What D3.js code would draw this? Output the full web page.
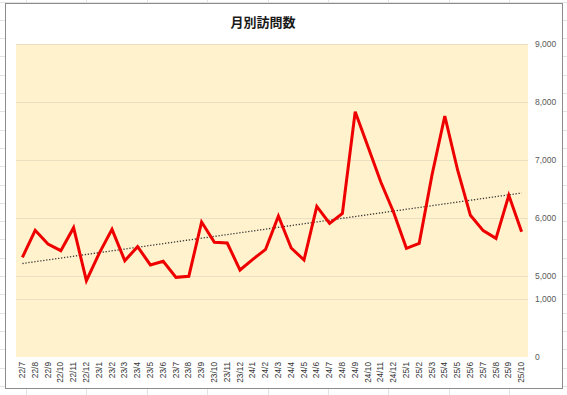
<!DOCTYPE html>
<html><head><meta charset="utf-8">
<script src="https://cdn.jsdelivr.net/npm/d3@7"></script>
<style>html,body{margin:0;padding:0;background:#fff;}svg{display:block;}</style>
</head><body>
<svg id="c" width="567" height="395"></svg>
<script>
const title = "月別訪問数";
const months = ["22/7","22/8","22/9","22/10","22/11","22/12","23/1","23/2","23/3","23/4","23/5","23/6","23/7","23/8","23/9","23/10","23/11","23/12","24/1","24/2","24/3","24/4","24/5","24/6","24/7","24/8","24/9","24/10","24/11","24/12","25/1","25/2","25/3","25/4","25/5","25/6","25/7","25/8","25/9","25/10"];
const visits = [5322,5788,5552,5437,5833,4920,5391,5805,5264,5506,5190,5253,4977,4994,5931,5581,5569,5103,5287,5460,6034,5483,5276,6201,5908,6080,7833,7230,6620,6100,5477,5563,6741,7759,6828,6046,5782,5649,6391,5764];
const yTicks = [0,1000,5000,6000,7000,8000,9000];

const svg = d3.select("#c");
const W = 567, H = 395;

// spreadsheet background grid
const bg = svg.append("g");
for (let y = 1.5; y < H; y += 18.3) bg.append("line").attr("x1",0).attr("x2",W).attr("y1",Math.round(y)+0.5).attr("y2",Math.round(y)+0.5).attr("stroke","#e3e3e3");
for (let x = 26; x < W; x += 60.4) bg.append("line").attr("y1",0).attr("y2",H).attr("x1",Math.round(x)+0.5).attr("x2",Math.round(x)+0.5).attr("stroke","#e3e3e3");

// chart frame
svg.append("rect").attr("x",5.5).attr("y",3.5).attr("width",557).attr("height",385)
  .attr("fill","#fff").attr("stroke","#8c8c8c").attr("stroke-width",1);

const plot = {x0:16, x1:528, y0:44, y1:357};

svg.append("rect").attr("x",plot.x0).attr("y",plot.y0).attr("width",plot.x1-plot.x0).attr("height",plot.y1-plot.y0).attr("fill","#FFF2CC");

const x = d3.scaleBand().domain(months).range([plot.x0, plot.x1]).padding(0);
const cx = d => x(d) + x.bandwidth()/2;

// broken axis: tick positions
const yAxisScale = d3.scaleLinear().domain([0,1000,5000,9000]).range([plot.y1, 299, 276, plot.y0]);
// data scale (upper segment, extended linearly)
const yData = d3.scaleLinear().domain([5000,9000]).range([276, plot.y0]);

// gridlines
svg.append("g").selectAll("line").data(yTicks.filter(d=>d>0)).join("line")
  .attr("x1",plot.x0).attr("x2",plot.x1)
  .attr("y1",d=>Math.round(yAxisScale(d))+0.5).attr("y2",d=>Math.round(yAxisScale(d))+0.5)
  .attr("stroke","#eadfc3").attr("stroke-width",1);

// title
svg.append("text").attr("x",263).attr("y",27).attr("text-anchor","middle")
  .attr("font-family","'Noto Sans CJK JP'").attr("font-weight","bold").attr("font-size",13).attr("fill","#1a1a1a").text(title);

// right axis
const ya = svg.append("g").attr("transform",`translate(${plot.x1+4},0)`)
  .call(d3.axisRight(yAxisScale).tickValues(yTicks).tickFormat(d3.format(",")).tickSize(0));
ya.select(".domain").remove();
ya.selectAll("text").attr("font-family","'Liberation Sans', Arial").attr("font-size",8.5).attr("fill","#595959");

// x axis
const xa = svg.append("g").attr("transform",`translate(0,${plot.y1})`)
  .call(d3.axisBottom(x).tickSize(0));
xa.select(".domain").remove();
xa.selectAll("text").attr("font-family","'Liberation Sans', Arial").attr("font-size",8.3).attr("fill","#333")
  .attr("text-anchor","end").attr("transform","rotate(-90)").attr("dx","-5").attr("y",0).attr("x",0)
  .attr("dy","0.32em");

// trendline (least squares)
const n = visits.length;
const xs = d3.range(n);
const mx = d3.mean(xs), my = d3.mean(visits);
const slope = d3.sum(xs.map((i)=> (i-mx)*(visits[i]-my))) / d3.sum(xs.map(i=>(i-mx)*(i-mx)));
const icpt = my - slope*mx;
svg.append("line")
  .attr("x1",cx(months[0])).attr("y1",yData(icpt))
  .attr("x2",cx(months[n-1])).attr("y2",yData(icpt+slope*(n-1)))
  .attr("stroke","#3a3a3a").attr("stroke-width",1.3).attr("stroke-dasharray","1.3,1.7");

// data line
svg.append("path").datum(visits)
  .attr("fill","none").attr("stroke","#EE0000").attr("stroke-width",3).attr("stroke-linejoin","miter")
  .attr("d", d3.line().x((d,i)=>cx(months[i])).y(d=>yData(d)));
</script>
</body></html>
